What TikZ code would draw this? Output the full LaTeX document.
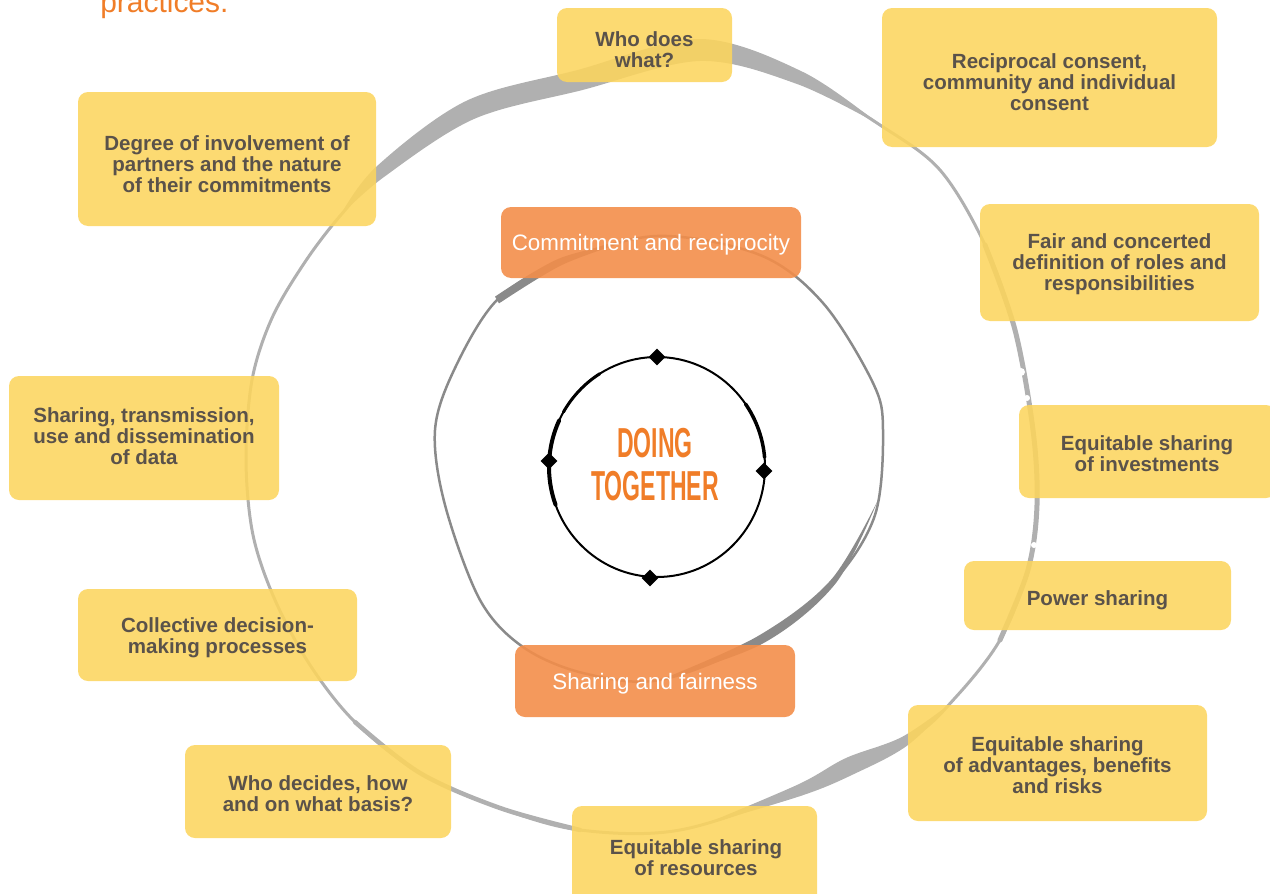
\documentclass[tikz,border=0pt]{standalone}
\usepackage{fontspec}
\setmainfont{Liberation Sans}
\newdimen\pxu \pxu=0.025cm
\definecolor{boxyellow}{RGB}{252,213,94}
\definecolor{boxorange}{RGB}{243,142,74}
\definecolor{txtgrey}{RGB}{90,82,74}
\definecolor{titleorange}{RGB}{240,125,40}
\definecolor{ringgrey}{RGB}{176,176,176}
\definecolor{ringdark}{RGB}{138,138,138}
\begin{document}
\begin{tikzpicture}[x=0.025cm,y=-0.025cm,
 ybox/.style={fill=boxyellow, fill opacity=0.88, rounded corners=10\pxu, inner sep=0pt},
 obox/.style={fill=boxorange, fill opacity=0.9, rounded corners=10\pxu, inner sep=0pt},
 ytext/.style={align=center, text=txtgrey, font=\fontsize{14.6pt}{15pt}\selectfont\bfseries, inner sep=0pt},
 otext/.style={align=center, text=white, font=\fontsize{15.9pt}{17pt}\selectfont, inner sep=0pt},
 diam/.style={fill=black, minimum size=12\pxu, rotate=45, inner sep=0pt},
 titletext/.style={text=titleorange, font=\fontsize{29.8pt}{31pt}\selectfont\bfseries, anchor=base, inner sep=0pt},
 outerring/.style={ringgrey, line cap=round, line join=round},
 midring/.style={ringdark, line cap=round, line join=round},
 innerring/.style={black, line cap=round}]
\useasboundingbox (0,0) rectangle (1270,894);
\clip (0,0) rectangle (1270,894);

% ---- outer ring
\draw[outerring, line width=3\pxu] plot[smooth cycle, tension=0.55] coordinates {
 (246,460) (252,380) (272,318) (305,262) (340,216) (380,175) (470,110) (580,80) (700,50)
 (800,78) (880,125) (940,170) (985,245) (1015,330) (1033,430) (1037,505) (1028,570)
 (1000,640) (955,698) (910,738) (800,790) (680,830) (580,830) (500,808) (420,773)
 (355,722) (310,665) (275,600) (253,535)};
% top brush band
\fill[ringgrey] plot[smooth, tension=0.55] coordinates {(340,216) (376,167) (466,101) (577.5,70) (700,39) (803,72) (880,125)}
 -- plot[smooth, tension=0.55] coordinates {(880,125) (797,84) (700,61) (582.5,90) (474,119) (384,177) (340,216)} -- cycle;
% right side
\draw[outerring, line width=5\pxu] plot[smooth, tension=0.55] coordinates {(985,245) (1015,330) (1033,430) (1037,505) (1028,570) (1000,640)};
% bottom-left
\draw[outerring, line width=4.5\pxu] plot[smooth, tension=0.55] coordinates {(355,722) (420,773) (500,808) (580,830)};
% bottom-right brush band
\fill[ringgrey] plot[smooth, tension=0.55] coordinates {(700,826) (798,784.5) (846,758) (902.4,736.7) (955,700)}
 -- plot[smooth, tension=0.55] coordinates {(955,700) (907.6,745.3) (854,774) (802,795.5) (700,826)} -- cycle;
\fill[white] (1021,372) circle (4);
\fill[white] (1027,398) circle (3);
\fill[white] (1034,545) circle (3);

% ---- middle ring
\draw[midring, line width=2.5\pxu] plot[smooth cycle, tension=0.55] coordinates {
 (435,430) (455,368) (497,300) (560,262) (657,236) (760,255) (823,303) (873,383) (883,430)
 (875,515) (833,582) (760,640) (660,680) (583,673) (523,647) (480,600) (445,505)};
\fill[ringdark] plot[smooth, tension=0.55] coordinates {(495,296.6) (558.5,258.8) (625,242)}
 -- plot[smooth, tension=0.55] coordinates {(625,242) (561.5,265.2) (499,303.4)} -- cycle;
\fill[ringdark] plot[smooth, tension=0.55] coordinates {(878,500) (835.2,584) (762.3,643.8) (660,680)}
 -- plot[smooth, tension=0.55] coordinates {(660,680) (757.7,636.2) (830.8,580) (878,500)} -- cycle;

% ---- inner ring
\coordinate (ic) at (657,467);
\draw[innerring, line width=2\pxu] (ic) ellipse [x radius=108, y radius=110];
\draw[innerring, line width=4\pxu] ([shift={(160:108 and 110)}]ic) arc[start angle=160, end angle=205, x radius=108, y radius=110];
\draw[innerring, line width=3.5\pxu] ([shift={(-35:108 and 110)}]ic) arc[start angle=-35, end angle=-5, x radius=108, y radius=110];
\draw[innerring, line width=3\pxu] ([shift={(-150:108 and 110)}]ic) arc[start angle=-150, end angle=-122, x radius=108, y radius=110];
\node[diam] (d1) at (657,357) {};
\node[diam] (d2) at (549,461) {};
\node[diam] (d3) at (764,471) {};
\node[diam] (d4) at (650,578) {};

% ---- title
\node[titletext] (t1) at (655,457) {\scalebox{0.55}[1]{DOING}};
\node[titletext] (t2) at (655,500) {\scalebox{0.55}[1]{TOGETHER}};

\node[anchor=base west, text=titleorange, font=\fontsize{21.3pt}{22pt}\selectfont, inner sep=0pt] (prac) at (100,12) {practices.};

% ---- boxes
\node[ybox, minimum width=175\pxu, minimum height=74\pxu] (b1) at (644.5,45) {};
\node[ytext] (b1t) at (644.5,50) {Who does\\what?};
\node[ybox, minimum width=335\pxu, minimum height=139\pxu] (b2) at (1049.5,77.5) {};
\node[ytext] (b2t) at (1049.5,82.5) {Reciprocal consent,\\community and individual\\consent};
\node[ybox, minimum width=298\pxu, minimum height=134\pxu] (b3) at (227,159) {};
\node[ytext] (b3t) at (227,164) {Degree of involvement of\\partners and the nature\\of their commitments};
\node[obox, minimum width=300\pxu, minimum height=71\pxu] (o1) at (651,242.5) {};
\node[otext] (o1t) at (651,244.5) {Commitment and reciprocity};
\node[ybox, minimum width=279\pxu, minimum height=117\pxu] (b4) at (1119.5,262.5) {};
\node[ytext] (b4t) at (1119.5,264) {Fair and concerted\\definition of roles and\\responsibilities};
\node[ybox, minimum width=270\pxu, minimum height=124\pxu] (b5) at (144,438) {};
\node[ytext] (b5t) at (144,436.5) {Sharing, transmission,\\use and dissemination\\of data};
\node[ybox, minimum width=257\pxu, minimum height=93\pxu] (b6) at (1147.5,451.5) {};
\node[ytext] (b6t) at (1147,454) {Equitable sharing\\of investments};
\node[ybox, minimum width=267\pxu, minimum height=69\pxu] (b7) at (1097.5,595.5) {};
\node[ytext] (b7t) at (1097.5,600.5) {Power sharing};
\node[ybox, minimum width=279\pxu, minimum height=92\pxu] (b8) at (217.5,635) {};
\node[ytext] (b8t) at (217.5,638) {Collective decision-\\making processes};
\node[obox, minimum width=280\pxu, minimum height=72\pxu] (o2) at (655,681) {};
\node[otext] (o2t) at (655,683.5) {Sharing and fairness};
\node[ybox, minimum width=299\pxu, minimum height=116\pxu] (b9) at (1057.5,763) {};
\node[ytext] (b9t) at (1057.5,765) {Equitable sharing\\of advantages, benefits\\and risks};
\node[ybox, minimum width=266\pxu, minimum height=93\pxu] (b10) at (318,791.5) {};
\node[ytext] (b10t) at (318,794) {Who decides, how\\and on what basis?};
\node[ybox, minimum width=245\pxu, minimum height=100\pxu] (b11) at (694.5,856) {};
\node[ytext] (b11t) at (696,858) {Equitable sharing\\of resources};
\end{tikzpicture}
\end{document}
